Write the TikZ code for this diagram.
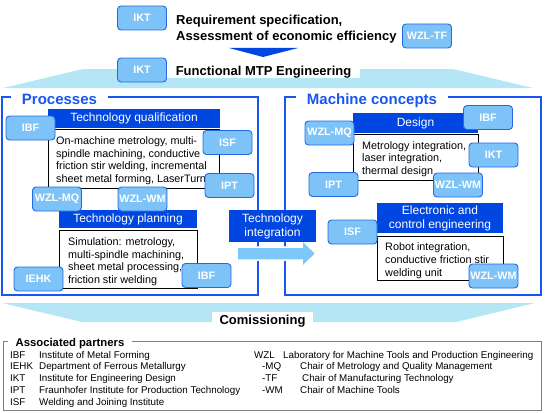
\documentclass[tikz,border=0pt]{standalone}
\usepackage{fontspec}
\setmainfont{Liberation Sans}
\usetikzlibrary{positioning}

\definecolor{frameblue}{RGB}{25,85,240}
\definecolor{headblue}{RGB}{0,70,225}
\definecolor{badgefill}{RGB}{125,195,248}
\definecolor{badgeline}{RGB}{35,105,230}
\definecolor{bandblue}{RGB}{180,230,246}
\definecolor{arrowblue}{RGB}{125,200,248}

\begin{document}
\begin{tikzpicture}[x=1pt,y=-1pt,>=latex,
  badge/.style={draw=badgeline,line width=0.9pt,fill=badgefill,rounded corners=3.5pt,
    text=white,font=\bfseries\fontsize{10.8}{12}\selectfont,
    minimum width=49pt,minimum height=24pt,inner sep=0pt},
  headbox/.style={fill=headblue,text=white,align=center,inner sep=0pt,
    font=\fontsize{12}{14}\selectfont},
  textbox/.style={draw=black,line width=0.6pt,fill=white,inner sep=0pt},
  boxtext/.style={anchor=north west,align=left,inner sep=0pt,
    font=\fontsize{10.8}{12.7}\selectfont},
  framebox/.style={draw=frameblue,line width=1.6pt},
  frametitle/.style={anchor=base,fill=white,text=frameblue,inner xsep=11pt,inner ysep=1pt,
    font=\bfseries\fontsize{15}{18}\selectfont},
  partner/.style={anchor=base west,inner sep=0pt,font=\fontsize{9.8}{12}\selectfont}]
\useasboundingbox (0,0) rectangle (545,412);

% bands and arrows
\fill[bandblue] (83,69) -- (453,69) -- (533,88) -- (3,88) -- cycle;
\fill[bandblue] (2,303) -- (535,303) -- (456,322) -- (82,322) -- cycle;
\fill[headblue] (229,48) -- (298,48) -- (263,57) -- cycle;

\path
(142,18)   node[badge] (ikt1) {IKT}
(176,15)   node[anchor=north west,align=left,inner sep=0pt,
             font=\bfseries\fontsize{13}{16}\selectfont] (req)
             {Requirement specification,\\Assessment of economic efficiency}
(427,36)   node[badge] (wzltf) {WZL-TF}
(263.5,75.5) node[anchor=base,fill=white,inner xsep=9pt,inner ysep=2.5pt,text depth=0pt,
             font=\bfseries\fontsize{13}{16}\selectfont] (fmtp) {Functional MTP Engineering}
(142,70)   node[badge] (ikt2) {IKT};

% frames
\draw[framebox] (2,97) rectangle (258,295);
\draw[framebox] (285,97) rectangle (541,295);
\node[frametitle] (proc) at (59.5,104) {Processes};
\node[frametitle] (mach) at (372,104) {Machine concepts};

% processes
\path
(134,118.5)  node[headbox,minimum width=172pt,minimum height=19pt] (tq) {Technology qualification}
(133.5,158.5) node[textbox,minimum width=171pt,minimum height=59pt] (tqbox) {}
(56,136.5)   node[boxtext] (tqtxt) {On-machine metrology, multi-\\spindle machining, conductive\\friction stir welding, incremental\\sheet metal forming, LaserTurn}
(128,219)    node[headbox,minimum width=138pt,minimum height=18pt] (tp) {Technology planning}
(128,259)    node[textbox,minimum width=138pt,minimum height=58pt] (tpbox) {}
(68,237.5)   node[boxtext] (tptxt) {Simulation: metrology,\\multi-spindle machining,\\sheet metal processing,\\friction stir welding};

\path
(30.5,128)   node[badge] (ibfA) {IBF}
(227.5,142.5) node[badge] (isfA) {ISF}
(229.5,185.5) node[badge] (iptA) {IPT}
(57,199)     node[badge] (wzlmqA) {WZL-MQ}
(142.5,199)  node[badge] (wzlwmA) {WZL-WM}
(38.5,279)   node[badge] (iehkA) {IEHK}
(206.5,275.5) node[badge] (ibfB) {IBF};

% technology integration
\fill[arrowblue,draw=white,line width=1.5pt] (237,247) -- (302,247) -- (302,240) -- (316,253.5)
  -- (302,267) -- (302,260) -- (237,260) -- cycle;
\node[headbox,minimum width=87pt,minimum height=32pt] (ti) at (272.5,226) {Technology\\integration};

% machine concepts
\path
(415.5,123)  node[headbox,minimum width=125pt,minimum height=20pt] (ds) {Design}
(415.5,157)  node[textbox,minimum width=125pt,minimum height=46pt] (dsbox) {}
(362,141)    node[boxtext] (dstxt) {Metrology integration,\\laser integration,\\thermal design}
(440,218)    node[headbox,minimum width=126pt,minimum height=30pt] (ec) {Electronic and\\control engineering}
(440,258)    node[textbox,minimum width=126pt,minimum height=44pt] (ecbox) {}
(385,242.5)  node[boxtext,font=\fontsize{10.8}{13.2}\selectfont] (ectxt) {Robot integration,\\conductive friction stir\\welding unit};

\path
(488,117.5)  node[badge] (ibfM) {IBF}
(329.5,133)  node[badge] (wzlmqM) {WZL-MQ}
(493.5,155)  node[badge] (iktM) {IKT}
(333.5,184.5) node[badge] (iptM) {IPT}
(458,185)    node[badge] (wzlwmM) {WZL-WM}
(352.5,232)  node[badge] (isfM) {ISF}
(493.5,276)  node[badge] (wzlwmE) {WZL-WM};

\node[anchor=base,fill=white,inner xsep=8pt,inner ysep=3pt,text depth=0pt,
  font=\bfseries\fontsize{13}{16}\selectfont] (com) at (262.5,324.5) {Comissioning};

% associated partners
\draw[gray,line width=0.8pt] (3,341) rectangle (541,410);
\node[anchor=base,fill=white,inner xsep=8pt,font=\bfseries\fontsize{11.3}{13}\selectfont] (ap)
  at (70,346) {Associated partners};
\path
(10,358)    node[partner] (ab1) {IBF}
(39,358)    node[partner] (pd1) {Institute of Metal Forming}
(10,369.8)  node[partner] (ab2) {IEHK}
(39,369.8)  node[partner] (pd2) {Department of Ferrous Metallurgy}
(10,381.6)  node[partner] (ab3) {IKT}
(39,381.6)  node[partner] (pd3) {Institute for Engineering Design}
(10,393.4)  node[partner] (ab4) {IPT}
(39,393.4)  node[partner] (pd4) {Fraunhofer Institute for Production Technology}
(10,405.2)  node[partner] (ab5) {ISF}
(39,405.2)  node[partner] (pd5) {Welding and Joining Institute}
(254,358)   node[partner] (ab6) {WZL}
(283,358)   node[partner] (pd6) {Laboratory for Machine Tools and Production Engineering}
(262,369.8) node[partner] (ab7) {-MQ}
(300,369.8) node[partner] (pd7) {Chair of Metrology and Quality Management}
(262,381.6) node[partner] (ab8) {-TF}
(302,381.6) node[partner] (pd8) {Chair of Manufacturing Technology}
(262,393.4) node[partner] (ab9) {-WM}
(300,393.4) node[partner] (pd9) {Chair of Machine Tools};
\end{tikzpicture}
\end{document}
